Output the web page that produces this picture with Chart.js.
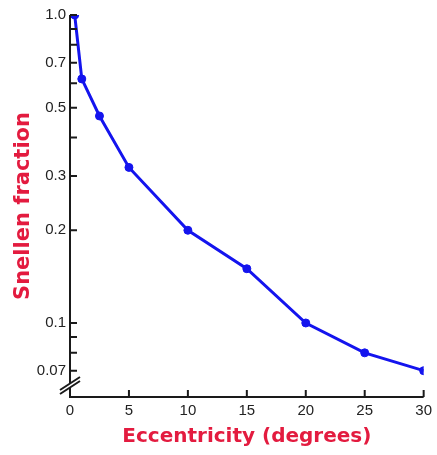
<!DOCTYPE html>
<html>
<head>
<meta charset="utf-8">
<script src="https://cdn.jsdelivr.net/npm/chart.js@4/dist/chart.umd.min.js"></script>
<style>
  html, body { margin: 0; padding: 0; background: #fff; }
  #wrap { width: 437px; height: 455px; }
</style>
</head>
<body>
<div id="wrap"><canvas id="acuityChart"></canvas></div>
<script>
const eccentricity = [0.4, 1, 2.5, 5, 10, 15, 20, 25, 30];
const snellen = [1.0, 0.62, 0.47, 0.32, 0.2, 0.15, 0.1, 0.08, 0.07];
const yTicks = [0.07, 0.08, 0.09, 0.1, 0.2, 0.3, 0.4, 0.5, 0.6, 0.7, 0.8, 0.9, 1.0];
const yLabels = { 0.07: "0.07", 0.1: "0.1", 0.2: "0.2", 0.3: "0.3", 0.5: "0.5", 0.7: "0.7", 1: "1.0" };
const xTicks = [0, 5, 10, 15, 20, 25, 30];

const red = "#e31b3f";
const ink = "#1a1a1a";

// axis lines, inward ticks and the break mark on the y axis
const axesPlugin = {
    id: "axesPlugin",
    afterDraw(chart) {
        const ctx = chart.ctx;
        const area = chart.chartArea;
        const xs = chart.scales.x;
        const ys = chart.scales.y;
        ctx.save();
        ctx.strokeStyle = ink;
        ctx.lineWidth = 2;
        ctx.beginPath();
        ctx.moveTo(area.left, area.top);
        ctx.lineTo(area.left, area.bottom);
        ctx.lineTo(area.right, area.bottom);
        ctx.stroke();

        ctx.beginPath();
        yTicks.forEach(v => {
            const y = ys.getPixelForValue(v);
            ctx.moveTo(area.left, y);
            ctx.lineTo(area.left + 7, y);
        });
        xTicks.forEach(v => {
            const x = xs.getPixelForValue(v);
            ctx.moveTo(x, area.bottom);
            ctx.lineTo(x, area.bottom - 7);
        });
        ctx.stroke();

        // break
        const by = area.bottom - 12;
        ctx.fillStyle = "#fff";
        ctx.fillRect(area.left - 2, by - 2, 4, 4);
        ctx.lineWidth = 2;
        ctx.beginPath();
        ctx.moveTo(area.left - 10, by + 5);
        ctx.lineTo(area.left + 10, by - 8);
        ctx.moveTo(area.left - 10, by + 9);
        ctx.lineTo(area.left + 10, by - 4);
        ctx.stroke();
        ctx.restore();
    }
};

document.addEventListener("DOMContentLoaded", function () {
    const ctx = document.getElementById("acuityChart").getContext("2d");
    new Chart(ctx, {
        type: "line",
        data: {
            datasets: [{
                data: eccentricity.map((e, i) => ({ x: e, y: snellen[i] })),
                borderColor: "#1414ee",
                backgroundColor: "#1414ee",
                borderWidth: 3,
                pointRadius: 4,
                pointBorderWidth: 1,
                pointHoverRadius: 4,
                tension: 0
            }]
        },
        options: {
            responsive: true,
            maintainAspectRatio: false,
            animation: false,
            layout: { padding: { top: 15, right: 11, left: 0, bottom: 0 } },
            plugins: {
                legend: { display: false },
                tooltip: { enabled: false }
            },
            scales: {
                x: {
                    type: "linear",
                    min: 0,
                    max: 30,
                    afterBuildTicks: scale => { scale.ticks = xTicks.map(v => ({ value: v })); },
                    afterFit: scale => { scale.height = 58; },
                    grid: { display: false, drawTicks: false },
                    border: { display: false },
                    ticks: {
                        color: "#222",
                        padding: 5,
                        font: { family: "Liberation Sans", size: 15 },
                        maxRotation: 0
                    },
                    title: {
                        display: true,
                        text: "Eccentricity (degrees)",
                        color: red,
                        font: { family: "DejaVu Sans", size: 20, weight: "bold" },
                        padding: { top: 0, bottom: 6 }
                    }
                },
                y: {
                    type: "logarithmic",
                    min: 0.0575,
                    max: 1.0,
                    afterBuildTicks: scale => { scale.ticks = yTicks.map(v => ({ value: v })); },
                    afterFit: scale => { scale.width = 70; },
                    grid: { display: false, drawTicks: false },
                    border: { display: false },
                    ticks: {
                        color: "#222",
                        padding: 4,
                        font: { family: "Liberation Sans", size: 15 },
                        callback: v => yLabels[v] || ""
                    },
                    title: {
                        display: true,
                        text: "Snellen fraction",
                        color: red,
                        font: { family: "DejaVu Sans", size: 21, weight: "bold" },
                        padding: { top: 11, bottom: 0 }
                    }
                }
            }
        },
        plugins: [axesPlugin]
    });
});
</script>
</body>
</html>
